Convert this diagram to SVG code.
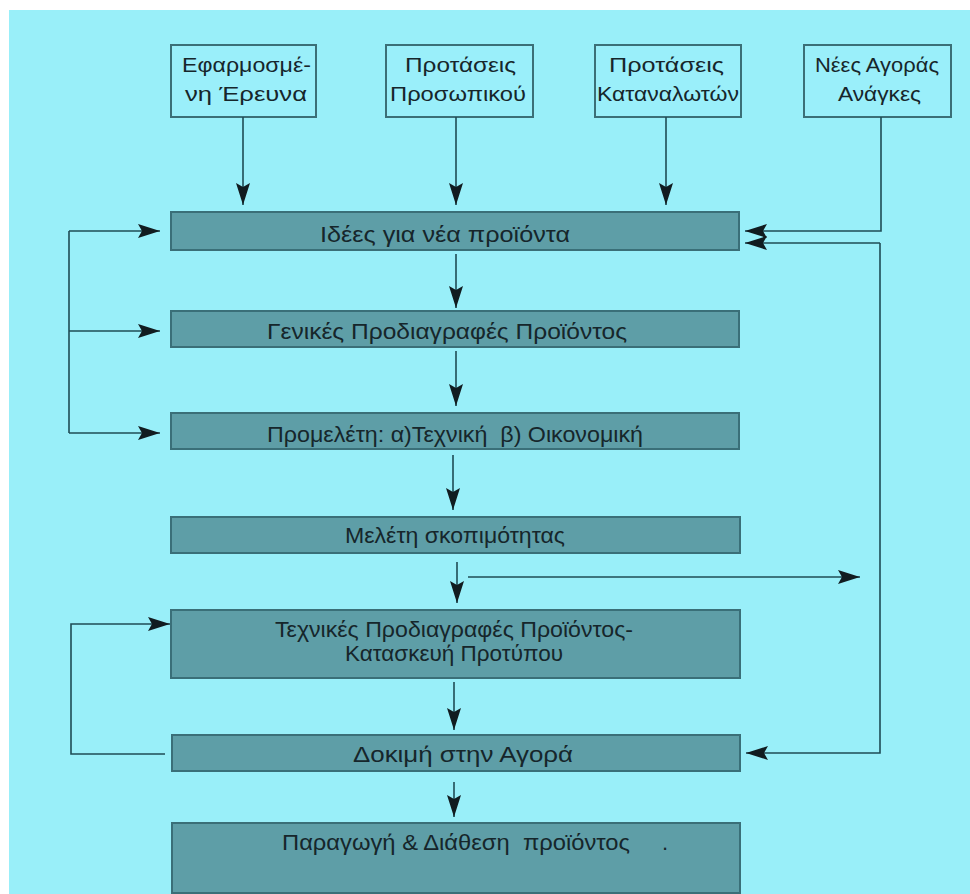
<svg xmlns="http://www.w3.org/2000/svg" width="970" height="894" viewBox="0 0 970 894">
<defs>
<style>
.src rect{fill:#9aeffa;stroke:#3b6f77;stroke-width:2}
.step rect{fill:#5e9ea7;stroke:#3a6f78;stroke-width:2}
text{font-family:"Liberation Sans","DejaVu Sans",sans-serif;fill:#16262b;white-space:pre}
.t{font-size:20px}
.m{font-size:22px}
#connectors path{fill:none;stroke:#1f4c55;stroke-width:1.6}
.arr{marker-end:url(#ah)}
</style>
<marker id="ah" viewBox="0 0 22 14" refX="22" refY="7" markerWidth="22" markerHeight="14" markerUnits="userSpaceOnUse" orient="auto">
<path d="M0,0 L22,7 L0,14 L4,7 Z" fill="#111c20"/>
</marker>
</defs>
<rect x="0" y="0" width="970" height="894" fill="#ffffff"/>
<rect x="9" y="10" width="961" height="884" fill="#99eff9"/>

<g id="src1" class="src"><rect x="171" y="45" width="145" height="72"/>
<text class="t" x="182" y="72" textLength="129" lengthAdjust="spacingAndGlyphs">Εφαρμοσμέ-</text>
<text class="t" x="185" y="101" textLength="122" lengthAdjust="spacingAndGlyphs">νη Έρευνα</text></g>
<g id="src2" class="src"><rect x="386" y="45" width="147" height="72"/>
<text class="t" x="405" y="72" textLength="111" lengthAdjust="spacingAndGlyphs">Προτάσεις</text>
<text class="t" x="390" y="101" textLength="136" lengthAdjust="spacingAndGlyphs">Προσωπικού</text></g>
<g id="src3" class="src"><rect x="595" y="45" width="146" height="72"/>
<text class="t" x="609" y="72" textLength="115" lengthAdjust="spacingAndGlyphs">Προτάσεις</text>
<text class="t" x="597" y="101" textLength="142" lengthAdjust="spacingAndGlyphs">Καταναλωτών</text></g>
<g id="src4" class="src"><rect x="804" y="45" width="147" height="72"/>
<text class="t" x="815" y="72" textLength="124" lengthAdjust="spacingAndGlyphs">Νέες Αγοράς</text>
<text class="t" x="838" y="101" textLength="83" lengthAdjust="spacingAndGlyphs">Ανάγκες</text></g>

<g id="ideas" class="step"><rect x="171" y="212" width="568" height="38"/>
<text class="m" x="320" y="242" textLength="250" lengthAdjust="spacingAndGlyphs">Ιδέες για νέα προϊόντα</text></g>
<g id="general" class="step"><rect x="171" y="311" width="568" height="36"/>
<text class="m" x="267" y="339" textLength="360" lengthAdjust="spacingAndGlyphs">Γενικές Προδιαγραφές Προϊόντος</text></g>
<g id="prestudy" class="step"><rect x="171" y="413" width="568" height="36"/>
<text class="m" x="267" y="442" textLength="376" lengthAdjust="spacingAndGlyphs">Προμελέτη: α)Τεχνική  β) Οικονομική</text></g>
<g id="feasibility" class="step"><rect x="171" y="517" width="569" height="36"/>
<text class="m" x="345" y="543" textLength="220" lengthAdjust="spacingAndGlyphs">Μελέτη σκοπιμότητας</text></g>
<g id="techspec" class="step"><rect x="171" y="610" width="569" height="68"/>
<text class="m" x="275" y="637" textLength="358" lengthAdjust="spacingAndGlyphs">Τεχνικές Προδιαγραφές Προϊόντος-</text>
<text class="m" x="345" y="661" textLength="218" lengthAdjust="spacingAndGlyphs">Κατασκευή Προτύπου</text></g>
<g id="market" class="step"><rect x="172" y="735" width="568" height="36"/>
<text class="m" x="353" y="762" textLength="220" lengthAdjust="spacingAndGlyphs">Δοκιμή στην Αγορά</text></g>
<g id="production" class="step"><rect x="172" y="823" width="568" height="70"/>
<text class="m" x="282" y="850" textLength="348" lengthAdjust="spacingAndGlyphs">Παραγωγή &amp; Διάθεση  προϊόντος</text>
<text class="m" x="662" y="850">.</text></g>

<g id="connectors">
<path class="arr" d="M243,117 V205"/>
<path class="arr" d="M456,117 V205"/>
<path class="arr" d="M666,117 V205"/>
<path class="arr" d="M881,117 V231 H745"/>
<path class="arr" d="M456,254 V308"/>
<path class="arr" d="M456,351 V406"/>
<path class="arr" d="M453,455 V510"/>
<path class="arr" d="M457,562 V603"/>
<path class="arr" d="M468,577 H860"/>
<path class="arr" d="M454,682 V730"/>
<path class="arr" d="M454,782 V817"/>
<path d="M69,231 V433"/>
<path class="arr" d="M69,231 H160"/>
<path class="arr" d="M69,331 H160"/>
<path class="arr" d="M69,433 H160"/>
<path class="arr" d="M165,754 H71 V624 H170"/>
<path class="arr" d="M880,243 H745"/>
<path class="arr" d="M880,243 V753 H746"/>
</g>
</svg>
